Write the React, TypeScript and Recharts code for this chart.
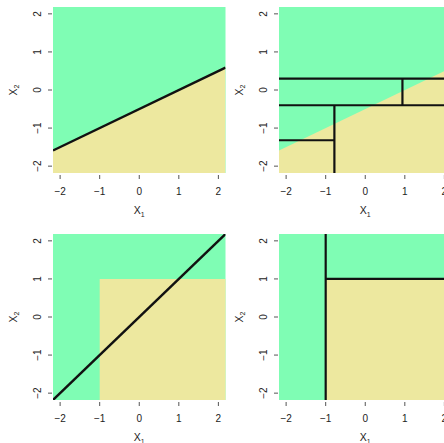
import React from "react";
import { Area, CartesianGrid, ComposedChart, Line, ReferenceArea, XAxis, YAxis } from "recharts";

const AXIS_TICKS = [-2, -1, 0, 1, 2];
const LIM = 2.18;

// top-left: linear decision boundary
const linearBoundary = [
  { x: -2.18, y: -1.59 },
  { x: 2.18, y: 0.59 },
];

// top-right: tree splits drawn over the same linear truth
const treeSplits = [
  [{ x: -2.18, y: 0.3 }, { x: 2.18, y: 0.3 }],
  [{ x: 0.94, y: 0.3 }, { x: 0.94, y: -0.4 }],
  [{ x: -2.18, y: -0.4 }, { x: 2.18, y: -0.4 }],
  [{ x: -0.78, y: -0.4 }, { x: -0.78, y: -2.18 }],
  [{ x: -2.18, y: -1.32 }, { x: -0.78, y: -1.32 }],
];

// bottom row: box-shaped truth
const boxRegion = { x1: -1, x2: 2.18, y1: -2.18, y2: 1 };
const diagonalFit = [
  { x: -2.18, y: -2.18 },
  { x: 2.18, y: 2.18 },
];
const boxSplits = [
  [{ x: -1, y: 2.18 }, { x: -1, y: -2.18 }],
  [{ x: -1, y: 1 }, { x: 2.18, y: 1 }],
];

const GREEN = "#7ffdb4";
const YELLOW = "#ede89f";
const FONT = "'Liberation Sans', Arial, sans-serif";

const fmt = (v: number) => (v < 0 ? "\u2212" + Math.abs(v) : String(v));

const XTick = (props: any) => {
  const { x, y, payload } = props;
  return (
    <g>
      <line x1={x} x2={x} y1={y + 2} y2={y + 6} stroke="#555" />
      <text x={x} y={y + 18} dy="0.35em" textAnchor="middle" fontSize={10} fill="#222" fontFamily={FONT}>
        {fmt(payload.value)}
      </text>
    </g>
  );
};

const YTick = (props: any) => {
  const { x, y, payload } = props;
  return (
    <g>
      <line x1={x - 5} x2={x - 1} y1={y} y2={y} stroke="#555" />
      <text
        x={x - 15.5}
        y={y}
        dy="0.35em"
        textAnchor="middle"
        fontSize={10}
        fill="#222"
        fontFamily={FONT}
        transform={`rotate(-90 ${x - 15.5} ${y})`}
      >
        {fmt(payload.value)}
      </text>
    </g>
  );
};

const XTitle = (props: any) => {
  const vb = props.viewBox;
  const cx = vb.x + vb.width / 2;
  return (
    <text x={cx} y={vb.y + 41} textAnchor="middle" fontSize={10.5} fill="#222" fontFamily={FONT}>
      X<tspan fontSize={7} dy={2.5}>1</tspan>
    </text>
  );
};

const YTitle = (props: any) => {
  const vb = props.viewBox;
  const cx = vb.x + 13;
  const cy = vb.y + vb.height / 2;
  return (
    <text
      x={cx}
      y={cy}
      dy="0.35em"
      textAnchor="middle"
      fontSize={10.5}
      fill="#222"
      fontFamily={FONT}
      transform={`rotate(-90 ${cx} ${cy})`}
    >
      X<tspan fontSize={7} dy={2.5}>2</tspan>
    </text>
  );
};

function Panel({ children }: { children: React.ReactNode }) {
  return (
    <ComposedChart width={230} height={227} margin={{ top: 7, right: 4.5, bottom: 0, left: 0 }}>
      <CartesianGrid horizontal={false} vertical={false} fill={GREEN} fillOpacity={1} stroke="none" />
      <XAxis
        type="number"
        dataKey="x"
        domain={[-LIM, LIM]}
        ticks={AXIS_TICKS}
        interval={0}
        allowDataOverflow
        axisLine={false}
        tickLine={false}
        tickSize={0}
        tickMargin={0}
        height={54}
        tick={<XTick />}
        label={{ content: (p: any) => <XTitle {...p} /> }}
      />
      <YAxis
        type="number"
        dataKey="y"
        domain={[-LIM, LIM]}
        ticks={AXIS_TICKS}
        interval={0}
        allowDataOverflow
        axisLine={false}
        tickLine={false}
        tickSize={0}
        tickMargin={0}
        width={53}
        tick={<YTick />}
        label={{ content: (p: any) => <YTitle {...p} /> }}
      />
      {children}
    </ComposedChart>
  );
}

const splitLine = (seg: { x: number; y: number }[], i: number) => (
  <Line
    key={i}
    data={seg}
    dataKey="y"
    stroke="#111"
    strokeWidth={2.2}
    dot={false}
    activeDot={false}
    isAnimationActive={false}
  />
);

export default function App() {
  const cell = (left: number, top: number): React.CSSProperties => ({ position: "absolute", left, top });
  return (
    <div style={{ position: "absolute", left: 0, top: 0, width: 444, height: 443, overflow: "hidden", background: "#fff" }}>
      <div style={cell(0, 0)}>
        <Panel>
          <Area data={linearBoundary} dataKey="y" type="linear" baseValue={-LIM} fill={YELLOW} fillOpacity={1} stroke="none" isAnimationActive={false} />
          <Line data={linearBoundary} dataKey="y" stroke="#111" strokeWidth={2.4} dot={false} isAnimationActive={false} />
        </Panel>
      </div>
      <div style={cell(226, 0)}>
        <Panel>
          <Area data={linearBoundary} dataKey="y" type="linear" baseValue={-LIM} fill={YELLOW} fillOpacity={1} stroke="none" isAnimationActive={false} />
          {treeSplits.map(splitLine)}
        </Panel>
      </div>
      <div style={cell(0, 227)}>
        <Panel>
          <ReferenceArea {...boxRegion} fill={YELLOW} fillOpacity={1} stroke="none" />
          <Line data={diagonalFit} dataKey="y" stroke="#111" strokeWidth={2.4} dot={false} isAnimationActive={false} />
        </Panel>
      </div>
      <div style={cell(226, 227)}>
        <Panel>
          <ReferenceArea {...boxRegion} fill={YELLOW} fillOpacity={1} stroke="none" />
          {boxSplits.map(splitLine)}
        </Panel>
      </div>
    </div>
  );
}
